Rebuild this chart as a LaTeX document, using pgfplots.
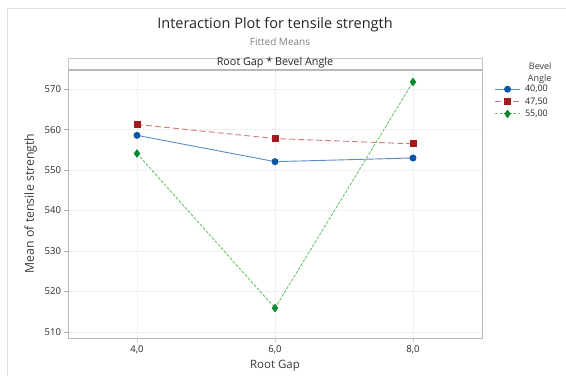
\documentclass[border=0pt]{standalone}
\usepackage{pgfplots}
\pgfplotsset{compat=1.18}
\usepackage{fontspec}
\setmainfont{Open Sans}
\definecolor{bluem}{HTML}{0B56A4}
\definecolor{bluel}{HTML}{5B8BCB}
\definecolor{redm}{HTML}{A31A1E}
\definecolor{redl}{HTML}{D27A7A}
\definecolor{greenm}{HTML}{078A2E}
\definecolor{greenl}{HTML}{6DC26D}
\definecolor{txt}{HTML}{262626}
\begin{document}
\begin{tikzpicture}
\useasboundingbox (0pt,0pt) rectangle (566pt,376pt);
\fill[white] (0pt,0pt) rectangle (566pt,376pt);
\draw[gray!25] (7pt,0pt) -- (7pt,368pt) -- (566pt,368pt);
\node[font=\fontsize{14.5}{16}\selectfont, text=txt] at (275pt,351pt) {Interaction Plot for tensile strength};
\node[font=\fontsize{10}{11}\selectfont, text=gray] at (280pt,334pt) {Fitted Means};
\begin{axis}[
  at={(68pt,38pt)}, anchor=south west,
  scale only axis, width=414pt, height=269pt,
  xmin=3, xmax=9, ymin=508.5, ymax=575,
  xtick={4,6,8}, xticklabels={{4,0},{6,0},{8,0}},
  ytick={510,520,...,570},
  ytick pos=left, xtick pos=bottom,
  grid=major, major grid style={gray!12, line width=0.8pt},
  axis line style={gray!55, line width=0.8pt},
  tick style={gray!70, line width=0.6pt},
  tick align=outside, major tick length=3.5pt,
  xtick style={gray!40},
  ticklabel style={font=\fontsize{9.5}{11}\selectfont, text=txt},
  xticklabel style={yshift=-1pt},
  /pgf/number format/assume math mode=true,
  xlabel={Root Gap}, ylabel={Mean of tensile strength},
  xlabel style={font=\fontsize{11.5}{13}\selectfont, text=txt!90, yshift=1pt},
  ylabel style={font=\fontsize{12.3}{14}\selectfont, text=txt!90, yshift=1pt},
  legend style={at={(1.03,0.948)}, anchor=north west, draw=none, fill=none,
    font=\fontsize{9}{10.5}\selectfont, text=txt, row sep=0.3pt, inner sep=0pt,
    nodes={inner xsep=4.5pt}},
  legend cell align=left,
  legend image code/.code={\draw[mark repeat=2,mark phase=2,#1] plot coordinates {(0pt,0pt)(12.5pt,0pt)(25pt,0pt)};},
]
\addplot[bluel, line width=0.9pt, solid, mark=*, mark size=3pt, mark options={solid, fill=bluem, draw=bluem}]
  coordinates {(4,558.6) (6,552.1) (8,553.0)};
\addlegendentry{40,00}
\addplot[redl, line width=0.9pt, dash pattern=on 6pt off 3pt, mark=square*, mark size=3pt, mark options={solid, fill=redm, draw=redm}]
  coordinates {(4,561.3) (6,557.8) (8,556.5)};
\addlegendentry{47,50}
\addplot[greenl, line width=0.9pt, dash pattern=on 3pt off 1.5pt, mark=diamond*, mark size=3.6pt, mark options={solid, fill=greenm, draw=greenm}]
  coordinates {(4,554.1) (6,515.9) (8,571.8)};
\addlegendentry{55,00}
\end{axis}
\draw[gray!45, line width=0.8pt, fill=white] (68pt,306pt) rectangle (482pt,318pt);
\draw[gray!55, line width=1.2pt] (68pt,306pt) -- (482pt,306pt);
\node[font=\fontsize{10.8}{12}\selectfont, text=txt] at (275pt,313pt) {Root Gap * Bevel Angle};
\node[font=\fontsize{9}{12}\selectfont, text=txt!90, anchor=east, align=right] at (555pt,303pt) {Bevel\\Angle};
\end{tikzpicture}
\end{document}
